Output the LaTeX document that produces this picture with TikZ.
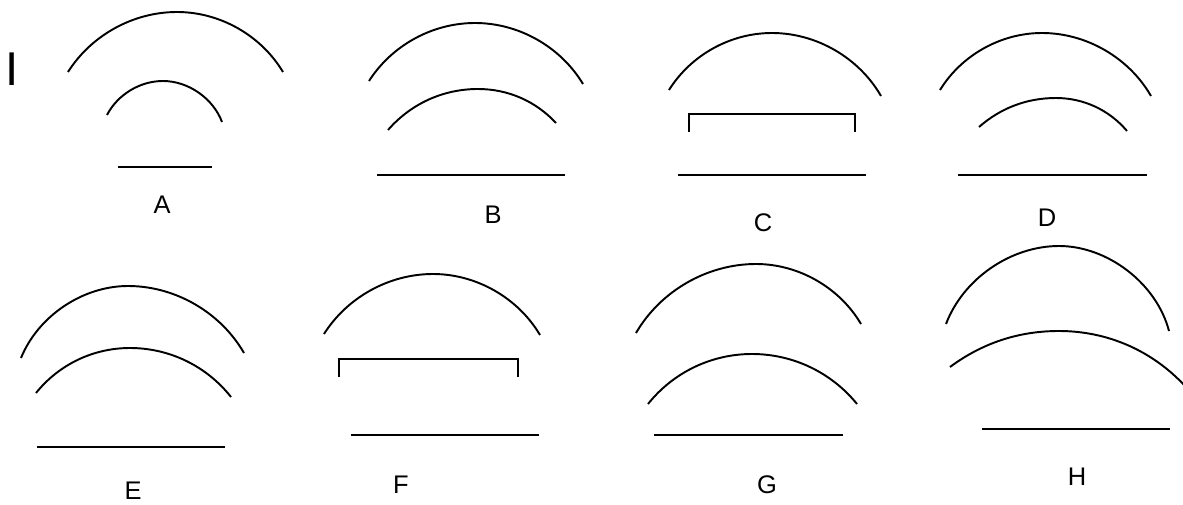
\documentclass[tikz,border=0pt]{standalone}
\usepackage{fontspec}
\setmainfont{Liberation Sans}
\usetikzlibrary{calc}

% arc through left end, top and right end (tangents of a circle)
\newcommand{\hump}[3]{%
  \draw[curve] let \p1=(#1), \p2=(#2), \p3=(#3),
      \n1={2*atan2(\y2-\y1,\x2-\x1)}, \n2={180-2*atan2(\y2-\y3,\x3-\x2)} in
    (\p1) to[out=\n1,in=180,looseness=0.9] (\p2)
          to[out=0,in=\n2,looseness=0.9] (\p3);}

\begin{document}
\begin{tikzpicture}[
    x=0.02cm, y=0.02cm,
    curve/.style={line width=1.1pt},
    base/.style={line width=1.1pt},
    bracket/.style={line width=1.1pt},
    tag/.style={inner sep=0pt, font=\fontsize{14.5}{17}\selectfont},
  ]
  \useasboundingbox (0,0) rectangle (1183,504);

  \node[inner sep=0pt, font=\fontsize{27}{30}\selectfont] (roman) at (12,435) {I};

  % --- panel A ---
  \hump{68,432}{177,492}{283,432}
  \hump{107,389}{163,423}{222,382}
  \draw[base] (118,337) -- (212,337);
  \node[tag] (labA) at (162,299) {A};

  % --- panel B ---
  \hump{369,423}{475,481}{583,420}
  \hump{388,374}{478,415}{556,381}
  \draw[base] (377,329) -- (565,329);
  \node[tag] (labB) at (493,289) {B};

  % --- panel C ---
  \hump{669,414}{772,471}{881,408}
  \draw[bracket] (689,372) -- (689,390) -- (855,390) -- (855,372);
  \draw[base] (678,329) -- (866,329);
  \node[tag] (labC) at (763,281) {C};

  % --- panel D ---
  \hump{940,414}{1042,471}{1151,408}
  \hump{979,377}{1056,406}{1127,373}
  \draw[base] (958,329) -- (1147,329);
  \node[tag] (labD) at (1047,286) {D};

  % --- panel E ---
  \hump{21,146}{128,218}{244,151}
  \hump{36,111}{130,156}{231,107}
  \draw[base] (37,57) -- (225,57);
  \node[tag] (labE) at (133,13) {E};

  % --- panel F ---
  \hump{324,170}{433,230}{540,169}
  \draw[bracket] (339,127) -- (339,145) -- (518,145) -- (518,127);
  \draw[base] (351,69) -- (539,69);
  \node[tag] (labF) at (401,19) {F};

  % --- panel G ---
  \hump{636,171}{756,240}{861,180}
  \hump{648,100}{752,150}{857,100}
  \draw[base] (654,69) -- (843,69);
  \node[tag] (labG) at (767,19) {G};

  % --- panel H ---
  \hump{946,180}{1059,258}{1169,173}
  \hump{950,137}{1059,173}{1185,118}
  \draw[base] (982,75) -- (1170,75);
  \node[tag] (labH) at (1077,27) {H};
\end{tikzpicture}
\end{document}
